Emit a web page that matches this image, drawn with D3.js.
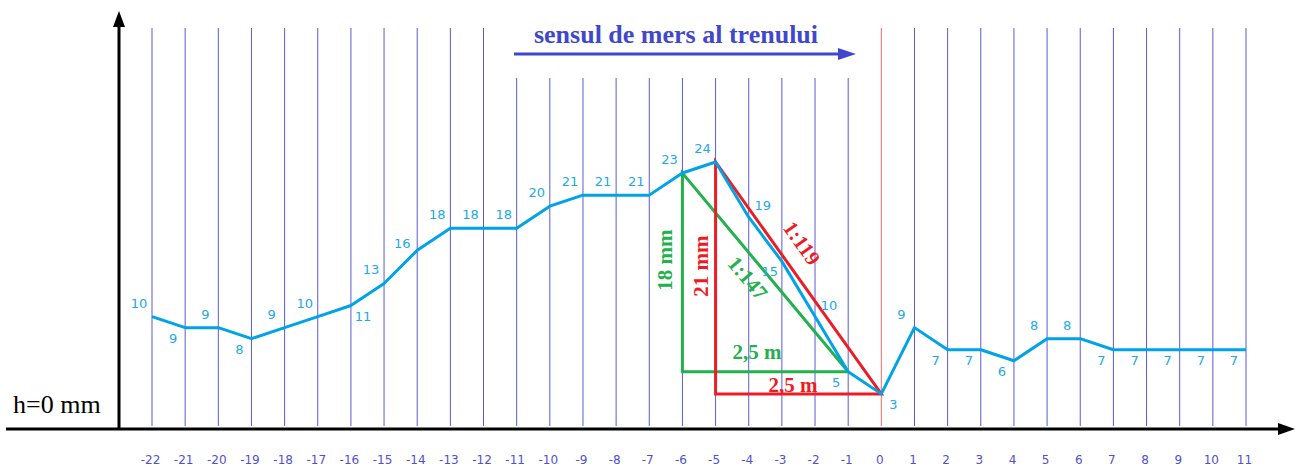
<!DOCTYPE html>
<html>
<head>
<meta charset="utf-8">
<script src="https://cdn.jsdelivr.net/npm/d3@7"></script>
<style>
  body { margin: 0; background: #fff; }
  svg { display: block; }
</style>
</head>
<body>
<script>
// positions along the track (sleepers) and measured height in mm
var positions = [-22,-21,-20,-19,-18,-17,-16,-15,-14,-13,-12,-11,-10,-9,-8,-7,-6,-5,-4,-3,-2,-1,0,1,2,3,4,5,6,7,8,9,10,11]
var heights   = [10,9,9,8,9,10,11,13,16,18,18,18,20,21,21,21,23,24,19,15,10,5,3,9,7,7,6,8,8,7,7,7,7,7]
// where each value label sits relative to its point
var labelSide = ["al","bl","al","bl","al","al","br","al","l","al","al","al","al","al","al","al","al","al","ar","bl","ar","bl","br","al","bl","bl","bl","al","al","bl","bl","bl","bl","bl"]

// short lines under the title
var shortLines = [-11,-10,-9,-8,-7,-6,-5,-4,-3,-2,-1]

// the two slope triangles
var greenTri = {from: -6, top: 23, to: -1, bottom: 5}
var redTri   = {from: -5, top: 24, to: 0, bottom: 3}

var W = 1301, H = 468

var svg = d3.select("body").append("svg")
  .attr("width", W)
  .attr("height", H)

var x = d3.scaleLinear().domain([-22, 11]).range([152, 1246])
var y = d3.scaleLinear().domain([0, 24]).range([427, 162])

var lineBlue = "#00a2e8"
var green = "#22b14c"
var red = "#ed1c24"
var gridBlue = "#5a5ad8"
var serif = "'Liberation Serif', 'Times New Roman', serif"

// vertical sleeper lines
svg.append("g").attr("id", "grid")
  .selectAll("line")
  .data(positions)
  .enter()
  .append("line")
  .attr("x1", function(d) { return x(d) })
  .attr("x2", function(d) { return x(d) })
  .attr("y1", function(d) { return shortLines.indexOf(d) >= 0 ? 78 : 28 })
  .attr("y2", 426)
  .attr("stroke", function(d) { return d == 0 ? "#f06a6a" : gridBlue })
  .attr("stroke-width", 1)

// axes (black, with arrows)
svg.append("line")
  .attr("x1", 6).attr("x2", 1282)
  .attr("y1", 429).attr("y2", 429)
  .attr("stroke", "#000").attr("stroke-width", 3)
svg.append("path")
  .attr("d", "M1295,429 L1278,423 L1278,435 Z")
  .attr("fill", "#000")

svg.append("line")
  .attr("x1", 119).attr("x2", 119)
  .attr("y1", 430).attr("y2", 24)
  .attr("stroke", "#000").attr("stroke-width", 3)
svg.append("path")
  .attr("d", "M119,11 L113,27 L125,27 Z")
  .attr("fill", "#000")

svg.append("text")
  .attr("x", 13).attr("y", 413)
  .style("font-family", serif)
  .style("font-size", "26px")
  .attr("fill", "#000")
  .text("h=0 mm")

// bottom labels
var xAxis = d3.axisBottom(x).tickValues(positions).tickSize(0)
  .tickFormat(function(d) { return d < 0 ? "-" + (-d) : "" + d })
var gx = svg.append("g")
  .attr("transform", "translate(0,452)")
  .call(xAxis)
gx.select(".domain").remove()
gx.selectAll("text")
  .attr("dx", "-2")
  .style("font-family", "'DejaVu Sans', Verdana, sans-serif")
  .style("font-size", "12px")
  .attr("fill", "#5050d0")

// title with arrow
svg.append("text")
  .attr("x", 676).attr("y", 43)
  .attr("text-anchor", "middle")
  .style("font-family", serif)
  .style("font-weight", "bold")
  .style("font-size", "26px")
  .attr("fill", "#3f48cc")
  .text("sensul de mers al trenului")
svg.append("line")
  .attr("x1", 514).attr("x2", 842)
  .attr("y1", 54).attr("y2", 54)
  .attr("stroke", "#3f48cc").attr("stroke-width", 3)
svg.append("path")
  .attr("d", "M856,54 L838,48 L838,60 Z")
  .attr("fill", "#3f48cc")

// triangles
function tri(t, color) {
  var p = "M" + x(t.from) + "," + y(t.top) +
          " L" + x(t.from) + "," + y(t.bottom) +
          " L" + x(t.to) + "," + y(t.bottom) + " Z"
  svg.append("path")
    .attr("d", p)
    .attr("fill", "none")
    .attr("stroke", color)
    .attr("stroke-width", 3)
}
tri(greenTri, green)
tri(redTri, red)

// height profile
var pts = positions.map(function(p, i) { return {p: p, h: heights[i], s: labelSide[i]} })
var line = d3.line()
  .x(function(d) { return x(d.p) })
  .y(function(d) { return y(d.h) })
svg.append("path")
  .datum(pts)
  .attr("d", line)
  .attr("fill", "none")
  .attr("stroke", lineBlue)
  .attr("stroke-width", 3)
  .attr("stroke-linejoin", "round")

var offs = {al: [-13, -9], bl: [-12, 15], br: [12, 15], ar: [14, -7], l: [-15, -2]}
svg.append("g")
  .selectAll("text")
  .data(pts)
  .enter()
  .append("text")
  .attr("x", function(d) { return x(d.p) + offs[d.s][0] })
  .attr("y", function(d) { return y(d.h) + offs[d.s][1] })
  .attr("text-anchor", "middle")
  .style("font-family", "'DejaVu Sans', Verdana, sans-serif")
  .style("font-size", "13px")
  .attr("fill", "#22a8e8")
  .text(function(d) { return d.h })

// annotation texts
function note(txt, cx, cy, ang, color) {
  svg.append("text")
    .attr("transform", "translate(" + cx + "," + cy + ") rotate(" + ang + ")")
    .attr("text-anchor", "middle")
    .attr("dy", "0.35em")
    .style("font-family", serif)
    .style("font-weight", "bold")
    .style("font-size", "21px")
    .attr("fill", color)
    .text(txt)
}
note("18 mm", 665, 260, -90, green)
note("21 mm", 701, 266, -90, red)
note("1:147", 748, 278, 50, green)
note("1:119", 802, 243, 55, red)
note("2,5 m", 757, 352, 0, green)
note("2,5 m", 793, 385, 0, red)
</script>
</body>
</html>
